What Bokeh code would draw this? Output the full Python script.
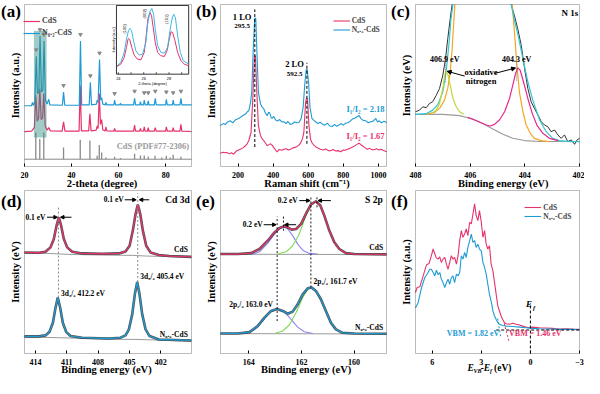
from bokeh.plotting import figure
from bokeh.layouts import gridplot
from bokeh.models import Range1d, FixedTicker, Label, Arrow, NormalHead, Legend, LegendItem, BoxAnnotation
from bokeh.embed import file_html
from bokeh.resources import INLINE

FONT = "Liberation Serif"
RED = "#e6336a"
BLUE = "#1e9bd4"

# ---------------- (a) XRD ----------------
xrd_red_x = [20, 23.0, 24.2, 24.8, 25.4, 26.0, 26.5, 27.1, 27.7, 28.2, 28.8, 29.6, 30.3, 31, 36.0, 36.6, 37.2, 43.2, 43.7, 44.2,
             47.3, 47.8, 48.3, 50.5, 50.9, 51.3, 51.8, 52.3, 52.8, 53.3, 54.3, 54.6, 55.0, 58.0, 58.3, 58.7, 66.4, 66.8, 67.2,
             69.0, 69.3, 69.6, 70.6, 70.9, 71.3, 72.3, 72.6, 72.9, 75.2, 75.6, 76.0, 80.0, 80.3, 80.7, 82.9, 83.2, 83.6,
             86.1, 86.5, 86.9, 91]
xrd_red_y = [21.5, 21.8, 24, 44, 28, 30, 48, 29, 30, 45, 25, 22.5, 24, 22, 21.8, 27.5, 21.8, 21.8, 50, 22,
             22, 32.5, 22, 22.5, 25, 23.5, 45, 26, 29, 22.5, 22, 24.5, 22, 21.8, 23.5, 21.8, 21.8, 25.5, 21.8,
             21.8, 23.5, 22, 21.8, 24.5, 21.8, 21.8, 24, 21.8, 21.8, 24, 21.8, 21.8, 24.5, 21.8, 21.8, 24, 21.8,
             21.8, 26, 21.8, 21.6]
xrd_blue_x = [20, 23.0, 23.4, 23.8, 24.4, 25.0, 25.5, 26.1, 26.6, 27.2, 27.8, 28.3, 28.9, 29.6, 30.3, 30.8, 36.1, 36.6, 37.1,
              43.3, 43.8, 44.3, 47.5, 48.0, 48.5, 50.6, 50.9, 51.3, 51.9, 52.4, 52.8, 53.3, 54.3, 54.6, 55.0, 58.0, 58.3, 58.7,
              60.5, 60.8, 61.1, 66.4, 66.8, 67.2, 69.0, 69.3, 69.6, 70.6, 70.9, 71.3, 72.3, 72.6, 72.9, 75.2, 75.6, 76.0,
              80.0, 80.3, 80.7, 82.9, 83.2, 83.6, 86.1, 86.5, 86.9, 91]
xrd_blue_y = [37.5, 37.5, 39.5, 37.8, 40, 68, 45, 46, 80.5, 46, 47, 77.5, 41, 38.5, 41.5, 38, 37.8, 46, 37.8,
              37.8, 77.5, 38, 38, 52, 38, 38.5, 41, 39.5, 66, 41, 42.5, 38.5, 38, 39.5, 38, 38, 41, 38,
              38, 39, 38, 38, 42, 38, 38, 40, 38, 38, 41, 38, 38, 40.5, 38, 38, 42, 38,
              38, 41.5, 38, 38, 41, 38, 38, 42, 38, 38]
mark_x = [25.0, 26.6, 28.3, 36.6, 43.8, 48.0, 51.9, 58.3, 66.8, 70.9, 72.6, 75.6, 80.3, 83.2, 86.5]
mark_y = [72, 84.5, 81.5, 50, 81.5, 56, 70, 45, 46.5, 45.5, 45.5, 46.5, 46, 45.5, 46.5]
ref_pos = [24.8, 26.5, 28.2, 36.6, 43.7, 47.8, 50.9, 51.8, 52.8, 54.6, 58.3, 60.8, 66.8, 69.3, 70.9, 72.6, 75.5, 78.3, 80.3, 82.0, 83.2, 86.5]
ref_top = [21, 17, 21, 11.8, 16.5, 16, 6.6, 13.2, 8.7, 5.6, 6.0, 5.2, 7.8, 6.8, 6.8, 6.2, 6.6, 5.5, 6.6, 5.5, 7.2, 6.0]
ref_base = 4.5
inset_blue_x = [23.9, 24.19, 24.46, 24.64, 24.8, 24.9, 25.04, 25.2, 25.38, 25.65, 25.91, 26.17, 26.33, 26.49, 26.64, 26.78,
                26.91, 27.1, 27.36, 27.63, 27.89, 28.07, 28.23, 28.36, 28.5, 28.68, 28.89, 29.13, 29.55]
inset_blue_y = [12.2, 17, 31.6, 51, 63.2, 66.5, 63.2, 48.6, 34, 27.7, 29.1, 46.1, 75.3, 90.8, 95.6, 87.3,
                65.5, 41.3, 31.6, 30.6, 38.9, 63.2, 80.1, 87.3, 82.5, 55.9, 31.6, 19.5, 14.6]
inset_red_x = [23.9, 24.19, 24.46, 24.64, 24.75, 24.8, 24.9, 25.06, 25.25, 25.51, 25.78, 26.04, 26.17, 26.33, 26.49, 26.62,
               26.75, 26.91, 27.1, 27.36, 27.63, 27.84, 28.02, 28.15, 28.28, 28.47, 28.68, 28.94, 29.21, 29.55]
inset_red_y = [11.2, 14.6, 24.3, 38.9, 50, 52, 50, 38.9, 27.7, 21.8, 20.9, 31.6, 51, 80.1, 89.8, 85,
               68, 46.1, 31.6, 26.8, 25.8, 34, 51, 61.7, 60.7, 48.6, 31.6, 19.5, 14.6, 12.2]
inset_ticks = [24, 25, 26, 27, 28, 29]
inset_label_pos = [24, 26, 28]
inset_tick_labels = ["24", "26", "28"]
inset_hkl = ["(100)", "(002)", "(101)"]
inset_hkl_x = [24.5, 26.1, 27.8]
inset_hkl_y = [66, 88, 80]

# ---------------- (b) Raman ----------------
raman_blue_x = [99, 115, 128, 140, 156, 170, 185, 200, 213, 228, 242, 255, 261, 270, 278, 286, 295, 301, 309, 316, 328, 338, 347,
                356, 366, 374, 381, 388, 394, 403, 413, 425, 437, 449, 461, 473, 485, 497, 509, 522, 535, 547, 560, 571, 581,
                589, 594, 602, 610, 621, 632, 642, 655, 668, 680, 695, 709, 722, 737, 750, 762, 775, 788, 800, 813, 826, 840,
                851, 865, 880, 890, 899, 912, 928, 942, 956, 970, 985, 995, 1004, 1018, 1032, 1046]
raman_blue_y = [25.2, 26.5, 26.0, 27.5, 28.2, 27.0, 28.8, 29.5, 30.3, 31.5, 32.4, 34.0, 34.4, 38.6, 45.8, 70.5, 91.5, 91.5, 66.4,
                45.8, 38.6, 36.5, 35.5, 33.0, 31.3, 33.5, 33.0, 30.5, 29.7, 31.0, 28.9, 28.0, 29.0, 27.5, 27.6, 26.5, 27.8,
                26.0, 26.4, 27.5, 27.0, 27.2, 29.7, 36.5, 52.0, 59.8, 59.8, 52.0, 36.5, 29.7, 28.5, 27.6, 26.5, 27.3, 26.2,
                25.5, 26.8, 25.0, 24.7, 26.0, 24.8, 25.6, 26.5, 25.5, 26.8, 27.0, 28.0, 29.3, 29.8, 30.9, 31.5, 29.7, 28.5,
                28.2, 27.0, 27.6, 28.0, 29.7, 27.5, 28.2, 27.0, 28.0, 27.2]
raman_red_x = [99, 115, 128, 137, 150, 162, 175, 190, 200, 213, 228, 242, 252, 261, 274, 284, 293, 299, 307, 316, 328, 338, 347,
               356, 366, 376, 385, 394, 405, 415, 423, 435, 448, 461, 475, 487, 499, 512, 525, 537, 550, 560, 568, 575, 585,
               590, 596, 604, 613, 622, 632, 645, 658, 670, 685, 700, 714, 728, 742, 756, 770, 785, 800, 812, 823, 838, 851,
               861, 875, 884, 890, 898, 909, 920, 937, 950, 962, 975, 990, 1003, 1013, 1027, 1046]
raman_red_y = [8.2, 8.8, 8.5, 8.7, 7.8, 8.5, 7.6, 9.5, 10.0, 10.7, 11.5, 12.8, 14.0, 15.9, 21.0, 41.6, 67.4, 68.5, 45.8, 25.2,
               19.0, 17.0, 15.9, 14.5, 12.8, 13.5, 14.0, 13.2, 11.5, 10.0, 9.1, 10.5, 10.0, 10.7, 11.0, 10.2, 10.7, 11.5,
               11.8, 12.4, 13.5, 15.3, 17.5, 21.0, 39.6, 42.0, 42.0, 25.2, 16.9, 14.5, 13.2, 12.0, 11.2, 10.7, 10.2, 10.8,
               9.8, 9.7, 10.5, 9.6, 9.8, 9.1, 10.2, 10.0, 10.7, 11.2, 12.0, 12.4, 13.5, 14.0, 14.4, 13.6, 12.8, 11.8, 10.7,
               11.2, 10.4, 10.3, 10.9, 10.2, 10.7, 10.0, 9.1]
lo_pos = [295.5, 592.5]

# ---------------- (c) N 1s ----------------
n_bg_x = [408, 407, 406.39, 405.9, 405.54, 405.17, 404.8, 404.44, 404.01, 403.46, 402]
n_bg_y = [32.2, 32.2, 31.4, 29.3, 26.6, 23.2, 19.9, 17.4, 16, 15.4, 15.4]
n_raw_l_x = [408, 407.85, 407.73, 407.61, 407.49, 407.37, 407.24, 407.12, 407, 406.9, 406.82, 406.73, 406.66]
n_raw_l_y = [33.8, 34.8, 36.9, 36.3, 38.9, 40, 44, 48.2, 56.4, 66.6, 78.9, 91.2, 100]
n_raw_r_x = [404.5, 404.38, 404.26, 404.13, 404.01, 403.89, 403.77, 403.65, 403.52, 403.4, 403.28, 403.16, 403.04,
             402.91, 402.79, 402.67, 402.55, 402.43, 402.3, 402.18, 402.09, 402]
n_raw_r_y = [100, 93.2, 85, 74.8, 60.5, 48.2, 40, 35.9, 31.8, 27.7, 25.6, 24.6, 21.5,
             22.5, 19.5, 17.4, 19.5, 15.4, 16.4, 13.7, 16.4, 17.4]
n_env_l_x = [408, 407.61, 407.37, 407.18, 407, 406.88, 406.78, 406.7, 406.63]
n_env_l_y = [32.2, 32.6, 34.8, 38.3, 46.1, 58.4, 74.8, 91.2, 100]
n_env_r_x = [404.5, 404.38, 404.26, 404.07, 403.89, 403.71, 403.46, 403.22, 402.98, 402.73, 402.37, 402]
n_env_r_y = [100, 90.2, 82, 66.6, 52.3, 41, 28.7, 21.5, 17.4, 16, 15.4, 15.4]
n_main_l_x = [407.61, 407.3, 407.12, 406.94, 406.82, 406.73, 406.66, 406.6, 406.56]
n_main_l_y = [32.2, 33.4, 35.9, 41, 48.2, 58.4, 72.7, 89.1, 100]
n_main_r_x = [404.46, 404.38, 404.29, 404.2, 404.07, 403.95, 403.8, 403.65, 403.4, 403.1]
n_main_r_y = [100, 83, 62.5, 46.1, 33.8, 25.6, 20.5, 17.4, 16, 15.4]
n_ox1_x = [407.43, 407.24, 407.12, 407, 406.93, 406.88, 406.82, 406.73, 406.63, 406.51, 406.39, 406.24]
n_ox1_y = [32.6, 34.8, 38.9, 48.2, 56.4, 59, 57.4, 50.2, 42, 36.9, 33.8, 32.2]
n_ox2_x = [406.09, 405.84, 405.6, 405.41, 405.27, 405.11, 404.93, 404.74, 404.56, 404.44, 404.34, 404.26, 404.17, 404.05,
           403.89, 403.73, 403.56, 403.34, 403.1, 402.79]
n_ox2_y = [30.3, 28.7, 27, 25.6, 25, 26, 28.7, 33.8, 42, 50.2, 57.4, 60.9, 59.4, 52.3,
           42, 32.8, 25.6, 20.5, 17.4, 16]
n_peaks = [406.9, 404.3]

# ---------------- (d) Cd 3d ----------------
cd_cds_x = [415.05, 413.68, 413.04, 412.56, 412.24, 411.98, 411.76, 411.54, 411.28, 410.96, 410.48, 409.52, 407.6, 406,
            405.37, 404.98, 404.67, 404.41, 404.19, 403.96, 403.71, 403.39, 402.97, 402.17, 401.2, 399.07]
cd_cds_y = [62, 61.8, 62.4, 65.1, 70.2, 78.4, 83.6, 78.4, 70.2, 65.1, 62.4, 61.4, 61.2, 61.4,
            62.6, 66.1, 75.4, 85.6, 91.4, 85.6, 75.4, 66.1, 62, 60.4, 59.8, 59.3]
cd_cds_bg_x = [415.05, 412.7, 410.8, 407.6, 404.73, 403.45, 399.07]
cd_cds_bg_y = [61.6, 61.4, 60.8, 60.4, 60.2, 59.8, 59.1]
cd_n_x = [415.05, 413.68, 413.04, 412.65, 412.33, 412.08, 411.86, 411.63, 411.38, 411.06, 410.64, 409.52, 406.97, 405.85,
          405.37, 405.05, 404.73, 404.48, 404.25, 404.03, 403.77, 403.45, 403.07, 402.17, 399.07]
cd_n_y = [10.5, 10.5, 11.1, 13.3, 18.9, 28.1, 34.3, 28.1, 18.9, 13.3, 10.7, 9.7, 9.2, 9.7,
          11.1, 14.8, 24, 36.3, 43.9, 36.3, 24, 14.8, 10.7, 8.6, 8]
cd_n_bg_x = [415.05, 411.76, 406.97, 404.09, 399.07]
cd_n_bg_y = [10.1, 9.7, 8.8, 8.6, 7.6]

# ---------------- (e) S 2p ----------------
s_cds_x = [165.07, 164.41, 163.91, 163.59, 163.28, 163.02, 162.83, 162.67, 162.52, 162.37, 162.2, 162.01, 161.83, 161.64,
           161.45, 161.28, 161.13, 160.94, 160.75, 160.56, 160.31, 159.99, 158.77]
s_cds_y = [61, 61, 61.6, 64.1, 69.2, 74.3, 77, 78, 77.4, 76, 76.4, 79.5, 85.6, 91.4,
           93.4, 90.8, 84.6, 75.4, 68.2, 64.1, 61.6, 61, 60.8]
s_cds_p1_x = [163.91, 163.59, 163.28, 163.02, 162.83, 162.67, 162.52, 162.33, 162.14, 161.95, 161.7, 161.38]
s_cds_p1_y = [60.6, 62.4, 67.6, 73.3, 76.4, 77.8, 76.4, 72.3, 67.1, 63.4, 61.4, 61]
s_cds_p3_x = [162.9, 162.58, 162.33, 162.08, 161.83, 161.64, 161.45, 161.28, 161.13, 160.94, 160.75, 160.56, 160.31, 160.06]
s_cds_p3_y = [61, 62.4, 66.1, 73.3, 84.6, 90.8, 93.2, 90.8, 84.6, 75.4, 68.2, 64.1, 61.6, 61]
s_n_x = [165.07, 164.41, 163.97, 163.66, 163.4, 163.15, 162.92, 162.71, 162.52, 162.33, 162.14, 161.95, 161.76, 161.61,
         161.45, 161.26, 161.07, 160.88, 160.69, 160.44, 159.99, 158.77]
s_n_y = [12.3, 12.3, 13.1, 16.8, 22, 26.1, 27.3, 26.1, 24.4, 25.7, 30.2, 36.3, 40, 40.5,
         38.4, 33.3, 26.1, 18.9, 14.8, 12.7, 12.3, 12.1]
s_n_p1_x = [164.16, 163.78, 163.47, 163.21, 162.92, 162.65, 162.39, 162.14, 161.89, 161.57]
s_n_p1_y = [12.3, 14.8, 20.3, 25.1, 27.3, 25.7, 20.9, 16.2, 13.3, 12.3]
s_n_p3_x = [163.02, 162.71, 162.46, 162.2, 161.95, 161.76, 161.61, 161.45, 161.26, 161.07, 160.88, 160.69, 160.44, 160.12]
s_n_p3_y = [12.3, 13.8, 17.5, 25.1, 34.3, 39.4, 40.5, 38.4, 33.3, 26.1, 18.9, 14.8, 12.7, 12.3]
s_bg_x = [165.07, 158.77]
s_cds_bg_y = [60.9, 60.7]
s_n_bg_y = [12.2, 12.0]

# ---------------- (f) VB ----------------
vb_red_x = [7.02, 6.92, 6.76, 6.55, 6.35, 6.19, 6.05, 5.94, 5.84, 5.74, 5.64, 5.54, 5.44, 5.34, 5.23, 5.13, 5.03, 4.93, 4.83,
            4.73, 4.63, 4.52, 4.42, 4.32, 4.22, 4.12, 4.02, 3.92, 3.82, 3.71, 3.61, 3.51, 3.41, 3.31, 3.21, 3.11, 3.0, 2.9,
            2.8, 2.7, 2.6, 2.5, 2.4, 2.29, 2.19, 2.09, 1.99, 1.89, 1.79, 1.69, 1.58, 1.48, 1.28, 1.08, 0.87, 0.67, 0.47,
            0.27, 0.06, -0.14, -0.55, -0.95, -1.36, -1.76, -2.17, -2.57, -3.0]
vb_red_y = [37.4, 40.5, 40.9, 47.6, 54.4, 55.2, 60, 64.1, 61, 58.5, 57.9, 59.3, 55.9, 57.9, 58.9, 54.8, 51.7, 55.9, 60,
            57.9, 58.9, 54.8, 60, 69.2, 75.4, 71.3, 73.3, 76.4, 72.3, 80.5, 79.5, 85.6, 91.8, 84.6, 81.5, 87.7, 80.5, 71.3,
            75.4, 67.1, 64.1, 66.1, 54.8, 50.7, 43.5, 36.3, 29.2, 26.1, 23, 20.9, 18.9, 18.3, 17.9, 18.5, 17.9, 17.5, 16.8,
            16.2, 15.8, 16.2, 15.8, 15.6, 15.4, 15, 15.2, 15, 14.8]
vb_blue_x = [7.02, 6.86, 6.65, 6.45, 6.25, 6.15, 6.05, 5.94, 5.84, 5.74, 5.64, 5.54, 5.44, 5.34, 5.23, 5.13, 5.03, 4.93, 4.83,
             4.73, 4.63, 4.52, 4.42, 4.32, 4.22, 4.12, 4.02, 3.92, 3.82, 3.71, 3.61, 3.51, 3.41, 3.31, 3.21, 3.11, 3.0, 2.9,
             2.8, 2.7, 2.6, 2.5, 2.4, 2.29, 2.19, 2.09, 1.99, 1.89, 1.69, 1.48, 1.08, 0.67, 0.27, -0.14, -0.55, -1.16,
             -1.76, -2.57, -3.0]
vb_blue_y = [28.1, 31.2, 40.5, 46.6, 49.7, 51.7, 51.7, 49.7, 47.6, 51.1, 48.3, 49.7, 45.6, 43.5, 40.5, 43.5, 45.6, 42.5, 46.6,
             47.6, 43.5, 48.7, 47.6, 49.7, 60, 57.9, 62, 58.9, 65.1, 69.2, 73.3, 68.2, 69.2, 65.1, 67.1, 64.1, 63, 55.9,
             52.8, 48.7, 42.5, 36.3, 32.2, 26.1, 23, 20.9, 18.9, 17.9, 17.2, 16.8, 16.6, 16.2, 15.8, 15.4, 15.2, 15,
             14.8, 14.8, 14.6]
vbm_base = 14.4
vbm_blue_tan_x = [2.0, 1.82]
vbm_blue_tan_y = [21.5, 10.5]
vbm_red_tan_x = [1.6, 1.3]
vbm_red_tan_y = [18.5, 7.0]

N02 = "N\u2080.\u2082-CdS"


def make_panel(box_x, width, height, pl, pr, pt, pb, xticks):
    """Frame covers the whole canvas; the visible box is drawn as an annotation."""
    box_y = (0, 100)
    sx = (box_x[1] - box_x[0]) / (width - pl - pr)
    sy = (box_y[1] - box_y[0]) / (height - pt - pb)
    p = figure(width=width, height=height,
               x_range=Range1d(box_x[0] - pl * sx, box_x[1] + pr * sx),
               y_range=Range1d(box_y[0] - pb * sy, box_y[1] + pt * sy),
               output_backend="svg", toolbar_location=None, y_axis_location=None,
               min_border=0, min_border_left=0, min_border_right=0, min_border_top=0, min_border_bottom=0)
    p.outline_line_color = None
    p.grid.visible = False
    p.background_fill_color = "white"
    p.border_fill_color = "white"
    xa = p.xaxis[0]
    xa.fixed_location = box_y[0]
    xa.ticker = FixedTicker(ticks=xticks)
    xa.minor_tick_line_color = None
    xa.axis_line_color = None
    xa.major_tick_line_color = "black"
    xa.major_tick_in = 3
    xa.major_tick_out = 0
    xa.major_label_standoff = 5
    xa.major_label_text_font = FONT
    xa.major_label_text_font_size = "8px"
    xa.major_label_text_font_style = "bold"
    xa.major_label_text_color = "black"
    p.add_layout(BoxAnnotation(left=box_x[0], right=box_x[1], bottom=box_y[0], top=box_y[1],
                               fill_alpha=0, line_color="#222222", line_width=1))
    info = dict(sx=sx, box_left=box_x[0], pl=pl)
    return p, info


def txt(p, x, y, s, size="8px", color="black", align="center", style="bold", angle=0.0):
    p.add_layout(Label(x=x, y=y, text=s, text_font=FONT, text_font_size=size, text_font_style=style,
                       text_color=color, text_align=align, text_baseline="middle", angle=angle))


def frame_texts(p, info, tag, tag_y, ylabel, xlabel, xlabel_x, xlabel_y):
    txt(p, info["box_left"] - (info["pl"] - 0.5) * info["sx"], tag_y, tag, size="17px", align="left")
    txt(p, info["box_left"] - 9 * info["sx"], 50, ylabel, size="10.5px", angle=1.5708)
    if xlabel:
        txt(p, xlabel_x, xlabel_y, xlabel, size="10.5px")


def arrow(p, x0, y0, x1, y1, size=4):
    p.add_layout(Arrow(x_start=x0, y_start=y0, x_end=x1, y_end=y1, line_color="black", line_width=1,
                       end=NormalHead(size=size, fill_color="black", line_color="black")))


def legend(p, rr, rbl, loc, h, gw, font, spacing):
    lg = Legend(items=[LegendItem(label="CdS", renderers=[rr]), LegendItem(label=N02, renderers=[rbl])],
                location=loc, margin=0, padding=1, spacing=spacing, glyph_width=gw, glyph_height=h,
                label_text_font=FONT, label_text_font_size=font, label_text_font_style="bold",
                label_standoff=2, background_fill_alpha=0, border_line_color=None, label_height=h, level="overlay")
    p.add_layout(lg)


ROW1 = dict(height=189, pt=4, pb=23)
ROW2 = dict(height=189, pt=1, pb=25)

# ---- panel a ----
pa, ia = make_panel((20, 91), 195, pl=24, pr=4, xticks=[20, 40, 60, 80], **ROW1)
pa.segment(x0=ref_pos, y0=[ref_base] * len(ref_pos), x1=ref_pos, y1=ref_top, line_color="#8a8a8a", line_width=1.3)
pa.line([20, 91], [ref_base, ref_base], line_color="#888888", line_width=1)
ra = pa.line(xrd_red_x, xrd_red_y, line_color=RED, line_width=1.2)
ba = pa.line(xrd_blue_x, xrd_blue_y, line_color=BLUE, line_width=1.2)
pa.quad(left=[24.0], right=[29.4], bottom=[17.9], top=[83.8], fill_color="#2e8b80", fill_alpha=0.45, line_color=None)
pa.scatter(mark_x, mark_y, marker="inverted_triangle", size=3.5, color="#8a8a8a")
txt(pa, 90, 12.4, "CdS (PDF#77-2306)", size="8.5px", color="#9a9a9a", align="right")
legend(pa, ra, ba, (23, 151.5), 10, 17, "8px", 2)
frame_texts(pa, ia, "(a)", 95.4, "Intensity (a.u.)", "2-theta (degree)", 52.95, -10.5)

# inset
isx = Range1d(23.85, 29.55)
isy = Range1d(0, 100)
ins = pa.subplot(x_source=isx, y_source=isy, x_target=Range1d(59.1, 89.8), y_target=Range1d(57, 99.4))
ins.quad(left=[isx.start], right=[isx.end], bottom=[isy.start], top=[isy.end], fill_color="white", line_color="black", line_width=0.8)
ins.line(inset_red_x, inset_red_y, line_color=RED, line_width=1)
ins.line(inset_blue_x, inset_blue_y, line_color="#3db8e6", line_width=1)
ins.segment(x0=inset_ticks, y0=[0] * len(inset_ticks), x1=inset_ticks, y1=[3] * len(inset_ticks), line_color="black", line_width=0.6)
ins.text(x=inset_label_pos, y=[-6] * 3, text=inset_tick_labels, text_font_size="4px", text_align="center",
         text_baseline="middle", text_color="black")
ins.text(x=[26.7], y=[-13], text=["2-theta (degree)"], text_font_size="4px", text_align="center",
         text_baseline="middle", text_color="black")
ins.text(x=[23.6], y=[50], text=["Intensity (a.u.)"], angle=1.5708, text_font_size="4px", text_align="center",
         text_baseline="middle", text_color="black")
ins.text(x=inset_hkl_x, y=inset_hkl_y, text=inset_hkl, angle=1.5708, text_font_size="4px", text_align="center",
         text_baseline="middle", text_color="black")

# ---- panel b ----
pb, ib = make_panel((100, 1046), 195, pl=25, pr=4, xticks=[200, 400, 600, 800, 1000], **ROW1)
rb = pb.line(raman_red_x, raman_red_y, line_color=RED, line_width=1.1)
bb = pb.line(raman_blue_x, raman_blue_y, line_color=BLUE, line_width=1.1)
pb.segment(x0=lo_pos, y0=[12, 14], x1=lo_pos, y1=[97, 64], line_color="black", line_dash="3 2", line_width=1)
txt(pb, 223, 92.5, "1 LO", size="8.5px")
txt(pb, 223, 86.5, "295.5", size="7px")
txt(pb, 522, 63.5, "2 LO", size="8.5px")
txt(pb, 522, 57, "592.5", size="7px")
txt(pb, 1035, 35.5, "I\u2081/I\u2082 = 2.18", size="8.5px", color=BLUE, align="right")
txt(pb, 1035, 18.6, "I\u2081/I\u2082 = 1.67", size="8.5px", color=RED, align="right")
legend(pb, rb, bb, (137.7, 155.5), 9, 17, "7.5px", 0)
frame_texts(pb, ib, "(b)", 95.4, "Intensity (a.u.)", "Raman shift (cm\u207b\u00b9)", 593, -10.5)

# ---- panel c ----
pc, ic = make_panel((408, 402), 194, pl=25, pr=5, xticks=[408, 406, 404, 402], **ROW1)
pc.line(n_bg_x, n_bg_y, line_color="#9a9a9a", line_width=1.1)
pc.line(n_raw_l_x, n_raw_l_y, line_color="#333333", line_width=1)
pc.line(n_raw_r_x, n_raw_r_y, line_color="#333333", line_width=1)
pc.line(n_main_l_x, n_main_l_y, line_color="#f5a623", line_width=1.2)
pc.line(n_main_r_x, n_main_r_y, line_color="#f5a623", line_width=1.2)
pc.line(n_env_l_x, n_env_l_y, line_color="#34c6d3", line_width=1.2)
pc.line(n_env_r_x, n_env_r_y, line_color="#34c6d3", line_width=1.2)
pc.line(n_ox1_x, n_ox1_y, line_color="#c3d53a", line_width=1.2)
pc.line(n_ox2_x, n_ox2_y, line_color="#e8288c", line_width=1.2)
pc.segment(x0=n_peaks, y0=[52, 53], x1=n_peaks, y1=[67, 65], line_color="#888888", line_dash="1 1", line_width=1)
txt(pc, 406.93, 65.8, "406.9 eV", size="8px")
txt(pc, 404.3, 65.8, "404.3 eV", size="8px")
txt(pc, 405.6, 58.4, "oxidative", size="8.5px")
txt(pc, 405.6, 52.5, "nitrogen", size="8.5px")
arrow(pc, 406.2, 55.8, 406.84, 58.8)
arrow(pc, 405.11, 57.4, 404.34, 60.8)
txt(pc, 402.35, 94.8, "N 1s", size="9px")
frame_texts(pc, ic, "(c)", 95.4, "Intensity (eV)", "Binding energy (eV)", 404.79, -10.5)

# ---- panel d ----
pd, idd = make_panel((415.05, 399.05), 195, pl=24, pr=4, xticks=[414, 411, 408, 405, 402], **ROW2)
pd.line(cd_cds_bg_x, cd_cds_bg_y, line_color="#9a9a9a", line_width=1)
pd.line(cd_n_bg_x, cd_n_bg_y, line_color="#9a9a9a", line_width=1)
pd.line(cd_cds_x, cd_cds_y, line_color="#333333", line_width=2.6, line_alpha=0.85)
pd.line(cd_cds_x, cd_cds_y, line_color=RED, line_width=1.3)
pd.line(cd_n_x, cd_n_y, line_color="#333333", line_width=2.6, line_alpha=0.85)
pd.line(cd_n_x, cd_n_y, line_color=BLUE, line_width=1.3)
pd.segment(x0=[411.8, 404.2], y0=[34.3, 43.9], x1=[411.8, 404.2], y1=[90, 98.4], line_color="#888888", line_dash="2 2", line_width=1)
txt(pd, 414.0, 83.6, "0.1 eV", size="7.5px")
arrow(pd, 412.9, 83.6, 411.9, 83.6, 3.5)
arrow(pd, 410.55, 83.6, 411.6, 83.6, 3.5)
txt(pd, 406.5, 94.3, "0.1 eV", size="7.5px")
arrow(pd, 405.45, 94.3, 404.35, 94.3, 3.5)
arrow(pd, 403.1, 94.3, 404.05, 94.3, 3.5)
txt(pd, 400.4, 94.3, "Cd 3d", size="9.5px")
txt(pd, 399.4, 63.6, "CdS", size="7.5px", align="right")
txt(pd, 399.4, 11.8, N02, size="7.5px", align="right")
txt(pd, 411.55, 36.8, "3d\u2083/\u2082 412.2 eV", size="7.5px", align="left")
txt(pd, 403.95, 47.2, "3d\u2085/\u2082 405.4 eV", size="7.5px", align="left")
frame_texts(pd, idd, "(d)", 93.4, "Intensity (eV)", "Binding energy (eV)", 407.2, -9.8)

# ---- panel e ----
pe, ie = make_panel((165.07, 158.77), 195, pl=25, pr=4, xticks=[164, 162, 160], **ROW2)
pe.line(s_bg_x, s_cds_bg_y, line_color="#9a9a9a", line_width=1)
pe.line(s_bg_x, s_n_bg_y, line_color="#9a9a9a", line_width=1)
pe.line(s_cds_p1_x, s_cds_p1_y, line_color="#8a86ee", line_width=1.1)
pe.line(s_cds_p3_x, s_cds_p3_y, line_color="#7fd85a", line_width=1.1)
pe.line(s_n_p1_x, s_n_p1_y, line_color="#8a86ee", line_width=1.1)
pe.line(s_n_p3_x, s_n_p3_y, line_color="#7fd85a", line_width=1.1)
pe.line(s_cds_x, s_cds_y, line_color="#333333", line_width=2.6, line_alpha=0.85)
pe.line(s_cds_x, s_cds_y, line_color=RED, line_width=1.3)
pe.line(s_n_x, s_n_y, line_color="#333333", line_width=2.6, line_alpha=0.85)
pe.line(s_n_x, s_n_y, line_color=BLUE, line_width=1.3)
pe.segment(x0=[162.92, 162.68, 161.64, 161.41], y0=[19.9, 75.4, 40.5, 89.7], x1=[162.92, 162.68, 161.64, 161.41],
           y1=[84, 84, 95.9, 95.9], line_color="black", line_dash="2 2", line_width=0.9)
txt(pe, 163.85, 79, "0.2 eV", size="7.5px")
arrow(pe, 163.43, 79, 162.96, 79, 3.5)
arrow(pe, 162.2, 79, 162.64, 79, 3.5)
txt(pe, 162.52, 93.8, "0.2 eV", size="7.5px")
arrow(pe, 162.08, 93.8, 161.67, 93.8, 3.5)
arrow(pe, 160.88, 93.8, 161.37, 93.8, 3.5)
txt(pe, 159.25, 94.3, "S 2p", size="9.5px")
txt(pe, 158.9, 65.1, "CdS", size="7.5px", align="right")
txt(pe, 158.9, 15.8, N02, size="7.5px", align="right")
txt(pe, 163.91, 29.8, "2p\u2081/\u2082 163.0 eV", size="7.5px")
txt(pe, 161.54, 44.2, "2p\u2083/\u2082 161.7 eV", size="7.5px", align="left")
frame_texts(pe, ie, "(e)", 93.4, "Intensity (eV)", "Binding energy (eV)", 161.82, -9.8)

# ---- panel f ----
pf, iff = make_panel((7.02, -3.0), 194, pl=25, pr=5, xticks=[6, 3, 0, -3], **ROW2)
rf = pf.line(vb_red_x, vb_red_y, line_color=RED, line_width=1.1)
bf = pf.line(vb_blue_x, vb_blue_y, line_color=BLUE, line_width=1.1)
pf.segment(x0=[2.09], y0=[vbm_base], x1=[-3.0], y1=[vbm_base], line_color="black", line_dash="3 2", line_width=1)
pf.segment(x0=[0], y0=[0], x1=[0], y1=[31], line_color="black", line_dash="3 2", line_width=1)
pf.line(vbm_blue_tan_x, vbm_blue_tan_y, line_color=BLUE, line_dash="2 2", line_width=1)
pf.line(vbm_red_tan_x, vbm_red_tan_y, line_color=RED, line_dash="2 2", line_width=1)
txt(pf, 3.5, 12.3, "VBM = 1.82 eV", size="8px", color=BLUE)
txt(pf, -0.3, 12.3, "VBM = 1.46 eV", size="8px", color=RED)
txt(pf, 0.08, 30.5, "E", size="9px", style="bold italic")
txt(pf, -0.22, 28.3, "f", size="6.5px", style="bold italic")
legend(pf, rf, bf, (134.3, 157.5), 8, 17, "7.5px", 0)
frame_texts(pf, iff, "(f)", 93.4, "Intensity (a.u.)", None, 0, 0)
for s, xx, yy, sz, st in [("E", 3.843, -9.2, "9.5px", "bold italic"), ("VB", 3.47, -10.8, "6px", "bold italic"),
                          ("-E", 3.04, -9.2, "9.5px", "bold italic"), ("f", 2.47, -10.8, "6px", "bold italic"),
                          ("(eV)", 2.22, -9.2, "9.5px", "bold")]:
    txt(pf, xx, yy, s, size=sz, style=st, align="left")

grid = gridplot([[pa, pb, pc], [pd, pe, pf]], toolbar_location=None)
open("out.html", "w").write(file_html(grid, INLINE))
